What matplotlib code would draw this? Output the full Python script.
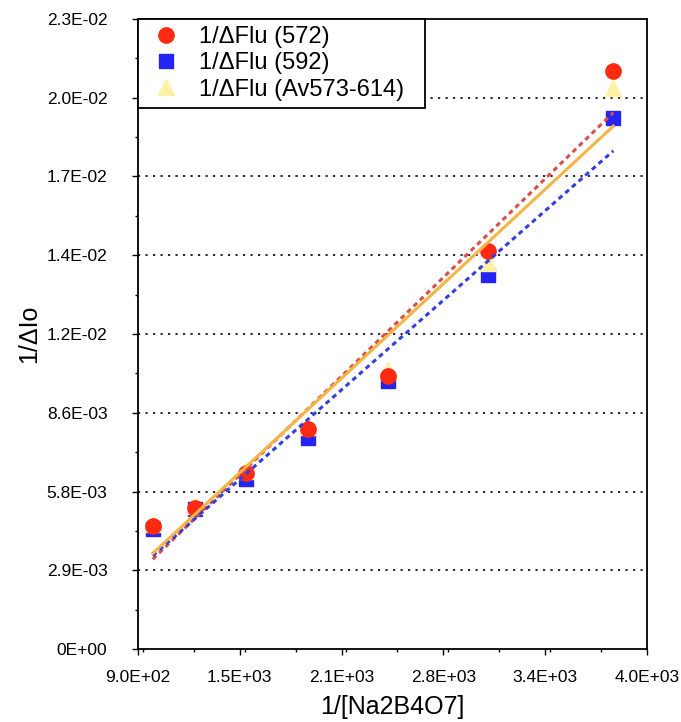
import numpy as np
import matplotlib
matplotlib.use("Agg")
import matplotlib.pyplot as plt
from matplotlib.ticker import FixedLocator, MultipleLocator

plt.rcParams['font.family'] = ['Liberation Sans', 'DejaVu Sans']

# data
x_inv_conc = [990, 1245, 1555, 1937, 2423, 3030, 3795]
flu_572 = [0.00449, 0.00515, 0.00643, 0.00803, 0.00997, 0.01453, 0.02110]
flu_592 = [0.00438, 0.00511, 0.00621, 0.00770, 0.00978, 0.01365, 0.01939]
flu_av = [0.00455, 0.00522, 0.00650, 0.00812, 0.01020, 0.01410, 0.02048]

x_ticks = [900, 1520, 2140, 2760, 3380, 4000]
x_labels = ["9.0E+02", "1.5E+03", "2.1E+03", "2.8E+03", "3.4E+03", "4.0E+03"]
y_ticks = [0, 0.002875, 0.00575, 0.008625, 0.0115, 0.014375, 0.01725, 0.020125, 0.023]
y_labels = ["0E+00", "2.9E-03", "5.8E-03", "8.6E-03", "1.2E-02",
            "1.4E-02", "1.7E-02", "2.0E-02", "2.3E-02"]

fig = plt.figure(figsize=(6.81, 7.22), dpi=100)
ax = fig.add_axes([0.2026, 0.1011, 0.7474, 0.8726])

x = np.array(x_inv_conc)

# markers
ax.plot(x, flu_592, 's', color='#2424f5', markersize=10.5, label='1/\u0394Flu (592)', zorder=3)
ax.plot(x, flu_av, '^', color='#fff2a6', markersize=11, label='1/\u0394Flu (Av573-614)  ', zorder=4)
ax.plot(x, flu_572, 'o', color='#ff2a10', markersize=11, label='1/\u0394Flu (572)', zorder=5)

# linear trend lines
xs = np.array([x.min(), x.max()])
for ys, col, ls in [(flu_572, '#d9504a', (0, (1.6, 1.3))),
                    (flu_592, '#3340e0', (0, (1.6, 1.3))),
                    (flu_av, '#f5b545', '-')]:
    k, b = np.polyfit(x, ys, 1)
    ax.plot(xs, k * xs + b, color=col, linestyle=ls, linewidth=2.2, zorder=6)

ax.set_xlim(900, 4000)
ax.set_ylim(0, 0.023)
ax.xaxis.set_major_locator(FixedLocator(x_ticks))
ax.set_xticklabels(x_labels)
ax.xaxis.set_minor_locator(MultipleLocator(310))
ax.yaxis.set_major_locator(FixedLocator(y_ticks))
ax.set_yticklabels(y_labels)
ax.yaxis.set_minor_locator(MultipleLocator(0.0014375))

ax.tick_params(axis='both', which='major', direction='out', length=4, width=1, labelsize=12.5)
ax.tick_params(axis='both', which='minor', direction='out', length=2.5, width=1)
ax.tick_params(axis='x', which='major', pad=11)
ax.tick_params(axis='y', which='major', pad=18)

for y in y_ticks[1:-1]:
    ax.axhline(y, color='black', linestyle=(0, (1.3, 3.2)), linewidth=1.2, zorder=1)

for sp in ax.spines.values():
    sp.set_linewidth(1.3)

ax.set_xlabel("1/[Na2B4O7]", fontsize=18, labelpad=7)
ax.set_ylabel("1/\u0394Io", fontsize=18, labelpad=4)

h, l = ax.get_legend_handles_labels()
order = [2, 0, 1]
leg = ax.legend([h[i] for i in order], [l[i] for i in order], loc='upper left',
                fontsize=17, frameon=True, fancybox=False, borderaxespad=0,
                handletextpad=0.5, labelspacing=0.18, borderpad=0.3,
                handlelength=1.8, framealpha=1)
leg.get_frame().set_edgecolor('black')
leg.get_frame().set_linewidth(1.3)
leg.set_zorder(10)

fig.savefig("out.png", dpi=100)
